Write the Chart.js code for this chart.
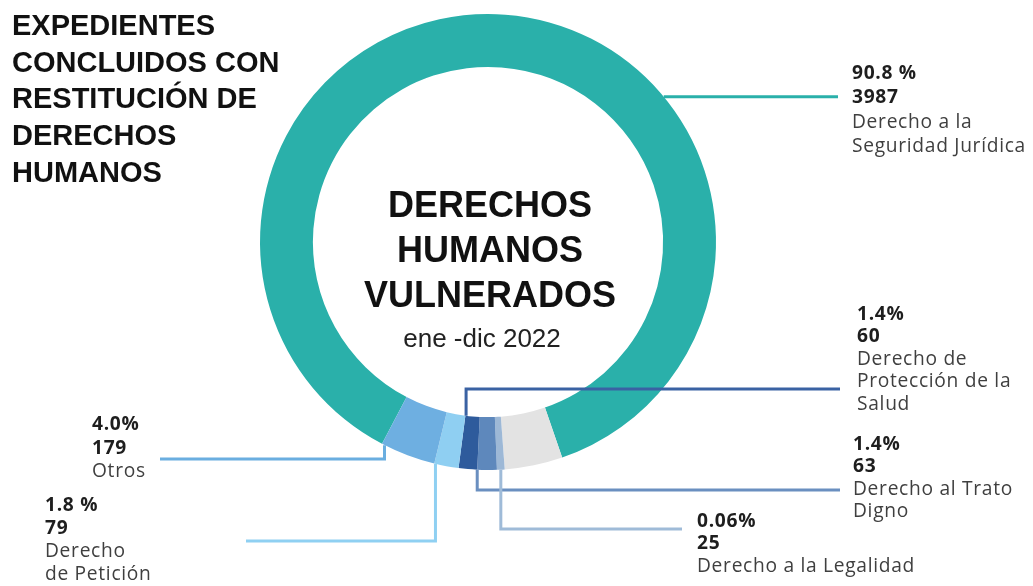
<!DOCTYPE html>
<html lang="es">
<head>
<meta charset="utf-8">
<title>Derechos humanos vulnerados</title>
<script src="https://cdn.jsdelivr.net/npm/chart.js@4.4.1/dist/chart.umd.min.js"></script>
<style>
  body { margin: 0; background: #fff; }
  #wrap { position: relative; width: 1033px; height: 586px; overflow: hidden; }
  #chart { position: absolute; left: 0; top: 0; }
  .title {
    position: absolute; left: 12px; top: 7px;
    font: bold 29px/36.7px "Liberation Sans", Arial, sans-serif; color: #111;
  }
  .center {
    position: absolute; left: 290px; width: 400px; top: 182px; text-align: center;
    font: bold 36px/45px "Liberation Sans", Arial, sans-serif; color: #111;
  }
  .period {
    position: absolute; left: 282px; width: 400px; top: 323px; text-align: center;
    font: 26px/30px "Liberation Sans", Arial, sans-serif; color: #222;
  }
  .lbl {
    position: absolute; font-family: "Open Sans", sans-serif; font-size: 19.2px;
    letter-spacing: 0.7px; color: #3f3f3f; white-space: pre-line;
  }
  .lbl b { color: #1e1e1e; font-weight: 700; display: block; }
</style>
</head>
<body>
<div id="wrap">
  <canvas id="chart" width="1033" height="586"></canvas>
  <div class="title">EXPEDIENTES<br>CONCLUIDOS CON<br>RESTITUCIÓN DE<br>DERECHOS<br>HUMANOS</div>
  <div class="center">DERECHOS<br>HUMANOS<br>VULNERADOS</div>
  <div class="period">ene -dic 2022</div>
</div>
<script>
// ---------- Data (clockwise from the left end of the teal arc) ----------
const categories = [
  'Derecho a la Seguridad Jurídica',
  'Sin etiqueta',
  'Derecho a la Legalidad',
  'Derecho al Trato Digno',
  'Derecho de Protección de la Salud',
  'Derecho de Petición',
  'Otros'
];
const counts = [3987, 188, 25, 63, 60, 79, 179];
const percentText = ['90.8 %', '', '0.06%', '1.4%', '1.4%', '1.8 %', '4.0%'];
const nameText = [
  'Derecho a la\nSeguridad Jurídica',
  '',
  'Derecho a la Legalidad',
  'Derecho al Trato\nDigno',
  'Derecho de\nProtección de la\nSalud',
  'Derecho\nde Petición',
  'Otros'
];
const sliceColors = ['#2ab0aa', '#e3e3e3', '#9db8d6', '#5e88bc', '#2e5b9c', '#8fcff2', '#6eafe1'];

// ---------- Label placement (style only) ----------
const labelPos = {
  0: { left: 852, capTop: 72, lh: 24.4 },
  2: { left: 697, capTop: 520, lh: 22.5 },
  3: { left: 853, capTop: 443, lh: 22.5 },
  4: { left: 857, capTop: 313, lh: 22.5 },
  5: { left: 45, capTop: 503, lh: 23 },
  6: { left: 92, capTop: 423, lh: 23.5 }
};

// leader lines: start on the slice's edge, then elbow to the label
const leaders = [
  { index: 0, frac: 0.647, edge: 'outer', color: '#2ab0aa', path: [['h', 838]] },
  { index: 4, frac: 0.95, edge: 'inner', color: '#3a62a3', path: [['v', 389], ['h', 840]] },
  { index: 3, frac: 1.0, edge: 'outer', color: '#6a8fc0', path: [['v', 490], ['h', 840]] },
  { index: 2, frac: 0.5, edge: 'outer', color: '#9fbbd8', path: [['v', 529], ['h', 682]] },
  { index: 6, frac: 0.95, edge: 'outer', color: '#6aaee0', path: [['v', 459], ['h', 160]] },
  { index: 5, frac: 0.95, edge: 'outer', color: '#8fd0f2', path: [['v', 541], ['h', 246]] }
];

const leaderPlugin = {
  id: 'leaders',
  afterDatasetsDraw(chart) {
    const ctx = chart.ctx;
    const meta = chart.getDatasetMeta(0);
    ctx.save();
    ctx.lineWidth = 3;
    leaders.forEach(l => {
      const arc = meta.data[l.index];
      const p = arc.getProps(['x', 'y', 'startAngle', 'endAngle', 'innerRadius', 'outerRadius'], true);
      const a = p.startAngle + (p.endAngle - p.startAngle) * l.frac;
      const r = l.edge === 'inner' ? p.innerRadius : p.outerRadius;
      let px = p.x + r * Math.cos(a);
      let py = p.y + r * Math.sin(a);
      ctx.beginPath();
      ctx.moveTo(px, py);
      l.path.forEach(([dir, v]) => {
        if (dir === 'v') py = v; else px = v;
        ctx.lineTo(px, py);
      });
      ctx.strokeStyle = l.color;
      ctx.stroke();
    });
    ctx.restore();
  }
};

new Chart(document.getElementById('chart'), {
  type: 'doughnut',
  data: {
    labels: categories,
    datasets: [{
      data: counts,
      backgroundColor: sliceColors,
      borderWidth: 0,
      hoverOffset: 0
    }]
  },
  options: {
    responsive: false,
    animation: false,
    rotation: 207.7,
    cutout: '76.8%',
    layout: { padding: { left: 260, right: 317, top: 14, bottom: 116 } },
    plugins: { legend: { display: false }, tooltip: { enabled: false } }
  },
  plugins: [leaderPlugin]
});

// ---------- Text labels ----------
const wrap = document.getElementById('wrap');
Object.keys(labelPos).forEach(k => {
  const i = +k;
  const pos = labelPos[i];
  const div = document.createElement('div');
  div.className = 'lbl';
  div.style.left = pos.left + 'px';
  div.style.top = (pos.capTop - pos.lh / 2) + 'px';
  div.style.lineHeight = pos.lh + 'px';
  const pct = document.createElement('b');
  pct.textContent = percentText[i];
  const num = document.createElement('b');
  num.textContent = counts[i];
  const name = document.createElement('span');
  name.textContent = nameText[i];
  div.append(pct, num, name);
  wrap.appendChild(div);
});
</script>
</body>
</html>
